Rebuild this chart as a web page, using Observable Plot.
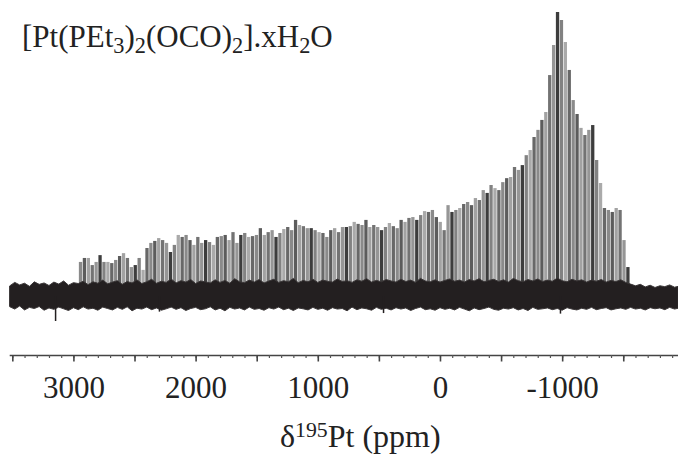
<!DOCTYPE html>
<html>
<head>
<meta charset="utf-8">
<script src="https://cdn.jsdelivr.net/npm/d3@7"></script>
<script src="https://cdn.jsdelivr.net/npm/@observablehq/plot@0.6"></script>
<style>
  html, body { margin: 0; padding: 0; background: #fff; }
  #wrap { position: relative; width: 678px; height: 459px; background: #fff; overflow: hidden; }
  #chart { position: absolute; left: 0; top: 0; }
  .serif { font-family: "Liberation Serif", "Times New Roman", serif; color: #222; }
  #title { position: absolute; left: 22px; top: 21px; font-size: 31px; line-height: 31px; white-space: nowrap; }
  #title .sb { font-size: 0.72em; vertical-align: -0.26em; }
  #xlabel { position: absolute; left: 280px; top: 414px; font-size: 32px; line-height: 32px; white-space: nowrap; }
  #xlabel .sp { font-size: 0.68em; vertical-align: 0.45em; }
</style>
</head>
<body>
<div id="wrap">
  <div id="chart"></div>
  <div id="title" class="serif">[Pt(PEt<span class="sb">3</span>)<span class="sb">2</span>(OCO)<span class="sb">2</span>].xH<span class="sb">2</span>O</div>
  <div id="xlabel" class="serif">δ<span class="sp">195</span>Pt (ppm)</div>
</div>
<script>
// ---- data ----
// spinning-sideband positions (ppm)
const spikePpm = [
  2946, 2914, 2882, 2850, 2818, 2786, 2754, 2722, 2690, 2658,
  2626, 2594, 2562, 2530, 2498, 2466, 2434, 2402, 2370, 2338,
  2306, 2274, 2242, 2210, 2178, 2146, 2114, 2082, 2050, 2018,
  1986, 1954, 1922, 1890, 1858, 1826, 1794, 1762, 1730, 1698,
  1666, 1634, 1602, 1570, 1538, 1506, 1474, 1442, 1410, 1378,
  1346, 1314, 1282, 1250, 1218, 1186, 1154, 1122, 1090, 1058,
  1026, 994, 962, 930, 898, 866, 834, 802, 770, 738,
  706, 674, 642, 610, 578, 546, 514, 482, 450, 418,
  386, 354, 322, 290, 258, 226, 194, 162, 130, 98,
  66, 34, 2, -30, -62, -94, -126, -158, -190, -222,
  -254, -286, -318, -350, -382, -414, -446, -478, -510, -542,
  -574, -606, -638, -670, -702, -734, -766, -798, -830, -862,
  -894, -926, -958, -990, -1022, -1054, -1086, -1118, -1150, -1182,
  -1214, -1246, -1278, -1310, -1342, -1374, -1406, -1438, -1470, -1502,
  -1534
];
// relative intensity (max = 100)
const spikeInt = [
  12.0, 13.4, 13.4, 10.9, 12.0, 14.4, 12.0, 12.0, 11.6, 12.7,
  14.1, 15.1, 13.4, 10.2, 10.9, 13.4, 9.2, 16.9, 18.7, 19.4,
  20.4, 19.7, 18.7, 15.5, 18.0, 21.5, 20.8, 21.5, 19.7, 18.0,
  20.8, 18.7, 19.7, 19.0, 18.0, 20.8, 21.1, 21.5, 19.7, 22.5,
  18.7, 21.5, 22.2, 20.8, 21.1, 21.5, 23.9, 21.5, 22.5, 23.2,
  20.8, 22.2, 23.6, 24.3, 23.2, 26.8, 25.0, 24.6, 23.9, 23.9,
  23.2, 22.5, 22.2, 20.8, 23.2, 23.9, 22.5, 24.3, 24.3, 24.6,
  26.1, 25.4, 25.0, 26.8, 24.3, 25.0, 24.3, 23.2, 24.3, 25.7,
  24.6, 23.9, 26.8, 26.1, 27.5, 27.8, 26.8, 28.5, 29.9, 29.6,
  30.3, 27.8, 26.1, 23.2, 32.0, 29.6, 30.3, 31.0, 32.4, 33.1,
  32.0, 34.5, 33.8, 37.3, 36.3, 39.1, 38.0, 37.3, 40.1, 41.5,
  41.9, 45.4, 44.4, 46.1, 49.6, 51.4, 56.0, 58.5, 62.0, 64.8,
  77.8, 88.4, 100.0, 97.2, 89.4, 79.6, 69.0, 64.1, 59.2, 56.7,
  58.5, 60.2, 47.9, 39.8, 31.0, 30.3, 29.6, 31.0, 30.3, 19.7,
  10.2
];
// baseline noise envelope (ppm, upper and lower edge)
const noisePpm = [
  3520, 3480, 3440, 3400, 3360, 3320, 3280, 3240, 3200, 3160,
  3120, 3080, 3040, 3000, 2960, 2920, 2880, 2840, 2800, 2760,
  2720, 2680, 2640, 2600, 2560, 2520, 2480, 2440, 2400, 2360,
  2320, 2280, 2240, 2200, 2160, 2120, 2080, 2040, 2000, 1960,
  1920, 1880, 1840, 1800, 1760, 1720, 1680, 1640, 1600, 1560,
  1520, 1480, 1440, 1400, 1360, 1320, 1280, 1240, 1200, 1160,
  1120, 1080, 1040, 1000, 960, 920, 880, 840, 800, 760,
  720, 680, 640, 600, 560, 520, 480, 440, 400, 360,
  320, 280, 240, 200, 160, 120, 80, 40, 0, -40,
  -80, -120, -160, -200, -240, -280, -320, -360, -400, -440,
  -480, -520, -560, -600, -640, -680, -720, -760, -800, -840,
  -880, -920, -960, -1000, -1040, -1080, -1120, -1160, -1200, -1240,
  -1280, -1320, -1360, -1400, -1440, -1480, -1520, -1560, -1600, -1640,
  -1680, -1720, -1760, -1800, -1840, -1880, -1920, -1950
];
const noiseHi = [
  3.6, 4.8, 3.9, 4.5, 3.4, 5.0, 4.1, 4.6, 3.7, 4.9,
  4.2, 5.3, 3.8, 4.7, 4.4, 5.2, 4.0, 5.0, 4.5, 5.6,
  4.3, 4.9, 5.4, 4.1, 5.1, 4.6, 5.7, 4.4, 5.0, 5.9,
  4.5, 5.2, 4.8, 6.0, 4.6, 5.4, 4.9, 5.8, 4.4, 5.3,
  5.0, 4.6, 5.7, 4.8, 5.5, 4.5, 6.1, 5.0, 4.7, 5.6,
  4.9, 5.8, 4.6, 5.3, 5.9, 4.8, 5.4, 5.0, 6.2, 4.7,
  5.5, 5.0, 5.9, 4.8, 5.6, 5.2, 4.9, 6.0, 5.1, 5.4,
  4.8, 5.7, 5.2, 6.1, 4.9, 5.5, 5.0, 5.8, 5.3, 4.9,
  5.9, 5.1, 5.6, 4.8, 6.2, 5.3, 5.0, 5.7, 4.9, 5.5,
  6.0, 5.2, 5.6, 4.9, 5.8, 5.3, 6.1, 5.0, 5.5, 5.9,
  5.1, 5.7, 4.9, 6.2, 5.4, 5.0, 5.8, 5.3, 6.0, 5.1,
  5.6, 5.2, 6.3, 5.4, 5.0, 5.9, 5.3, 5.7, 4.9, 5.6,
  5.2, 5.8, 4.9, 5.5, 5.1, 5.7, 4.8, 4.2, 3.6, 4.1,
  3.2, 3.8, 3.0, 3.6, 3.3, 3.9, 3.1, 3.4
];
const noiseLo = [
  -3.8, -4.6, -3.5, -4.9, -4.0, -4.4, -3.7, -5.0, -4.2, -4.7,
  -3.9, -4.5, -5.1, -4.1, -4.8, -3.8, -4.6, -4.3, -5.0, -3.9,
  -4.4, -4.9, -4.0, -4.7, -3.8, -5.2, -4.3, -4.6, -3.9, -4.8,
  -4.2, -5.0, -4.5, -3.9, -4.7, -4.1, -5.1, -4.4, -4.0, -4.8,
  -4.5, -3.8, -4.9, -4.3, -5.2, -4.0, -4.6, -4.2, -4.9, -3.9,
  -4.7, -4.4, -5.0, -4.1, -4.6, -3.9, -4.8, -4.3, -5.1, -4.2,
  -4.5, -4.9, -4.0, -4.7, -4.3, -5.0, -4.1, -4.6, -4.4, -5.2,
  -3.9, -4.8, -4.2, -4.5, -5.0, -4.0, -4.7, -4.3, -4.9, -4.1,
  -4.6, -4.2, -5.1, -4.4, -3.9, -4.8, -4.5, -5.0, -4.1, -4.7,
  -4.3, -4.9, -4.0, -4.6, -5.2, -4.2, -4.8, -4.4, -3.9, -4.7,
  -5.0, -4.3, -4.6, -4.1, -4.9, -4.4, -5.1, -4.0, -4.7, -4.5,
  -4.2, -4.8, -4.4, -5.0, -4.1, -4.6, -4.9, -4.3, -4.7, -4.0,
  -4.8, -4.4, -4.1, -4.9, -4.5, -4.2, -4.7, -4.0, -4.6, -4.3,
  -4.9, -4.1, -4.5, -4.2, -4.8, -4.0, -4.6, -4.3
];
// isolated noise spikes below the baseline
const dipPpm = [3150, 2300, 466, -982];
const dipInt = [-8.8, -5.5, -6.0, -6.2];
// axis ticks
const labelTicks = [3000, 2000, 1000, 0, -1000];
const halfTicks = [3500, 3000, 2500, 2000, 1500, 1000, 500, 0, -500, -1000, -1500];
const minorTicks = d3.range(-1900, 3600, 100);

// ---- tables ----
const spikes = spikePpm.map((p, i) => ({ppm: p, v: spikeInt[i]}));
const noise = noisePpm.map((p, i) => ({ppm: p, hi: noiseHi[i], lo: noiseLo[i]}));
const dips = dipPpm.map((p, i) => ({ppm: p, v: dipInt[i]}));

const shades = ["#8a8a8a", "#5c5c5c", "#a2a2a2", "#737373", "#969696", "#3d3d3d", "#828282", "#aaaaaa", "#686868"];
const ink = "#231f20";

const chart = Plot.plot({
  width: 678,
  height: 410,
  marginLeft: 10,
  marginRight: 0,
  marginTop: 0,
  marginBottom: 55,
  x: {domain: [3519, -1948]},
  y: {domain: [-20.77, 104.23], axis: null},
  style: {fontFamily: "'Liberation Serif', 'Times New Roman', serif", fontSize: "31px", color: "#222", background: "transparent", overflow: "visible"},
  marks: [
    Plot.ruleX(spikes, {x: "ppm", y1: 0, y2: "v", stroke: (d, i) => shades[i % shades.length], strokeWidth: 3.3}),
    Plot.areaY(noise, {x: "ppm", y1: "lo", y2: "hi", fill: ink, stroke: "#3a3637", strokeWidth: 1, curve: "linear"}),
    Plot.ruleX(dips, {x: "ppm", y1: 0, y2: "v", stroke: ink, strokeWidth: 1.5}),
    Plot.frame({anchor: "bottom", stroke: "#444", strokeWidth: 1.6}),
    Plot.axisX({ticks: minorTicks, tickSize: 3, tickFormat: () => "", stroke: "#555", strokeWidth: 1.2, label: null}),
    Plot.axisX({ticks: halfTicks, tickSize: 6.5, tickFormat: () => "", stroke: "#444", strokeWidth: 1.6, label: null}),
    Plot.axisX({ticks: labelTicks, tickSize: 0, tickPadding: 20, tickFormat: d => String(d), fill: "#222", fontSize: 31, label: null})
  ]
});
document.getElementById("chart").appendChild(chart);
</script>
</body>
</html>
